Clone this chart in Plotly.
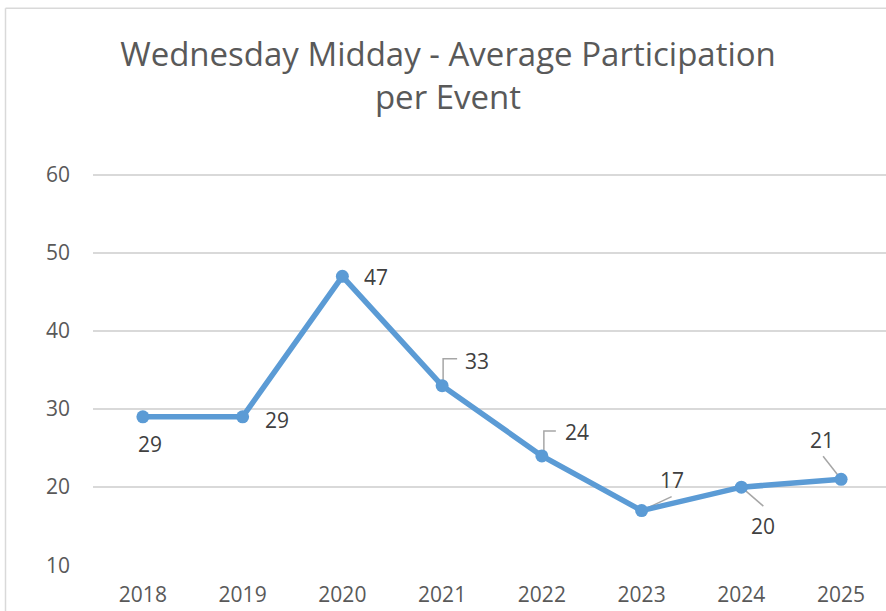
import plotly.graph_objects as go

years = [2018, 2019, 2020, 2021, 2022, 2023, 2024, 2025]
participation = [29, 29, 47, 33, 24, 17, 20, 21]
y_ticks = [10, 20, 30, 40, 50, 60]
title_text = "Wednesday Midday - Average Participation<br>per Event"

# label offsets (pixels, style only)
label_dx = [7, 34, 34, 35, 35, 30, 22, -19]
label_dy = [-27, -3, -1, 25, 24, 31, -39, 39]  # positive = up

# leader-line paths relative to points (pixels, y up), None = no leader
leaders = [None, None, None,
           "M 1,3 L 1,27 L 15,27",
           "M 2,3 L 2,25 L 14,25",
           "M 0,0 L 30,14",
           "M 0,0 L 22,-19",
           "M 0,0 L -18,23"]

LINE_COLOR = "#5B9BD5"
TEXT_COLOR = "#595959"
LABEL_COLOR = "#404040"
GRID = "#d9d9d9"
FONT = "Open Sans"

fig = go.Figure()
fig.add_trace(go.Scatter(
    x=years, y=participation, mode="lines+markers",
    line=dict(color=LINE_COLOR, width=5.5),
    marker=dict(color=LINE_COLOR, size=13),
    hoverinfo="skip", showlegend=False,
))

shapes = []
for x, y, p in zip(years, participation, leaders):
    if p:
        shapes.append(dict(type="path", xref="x", yref="y",
                           xsizemode="pixel", ysizemode="pixel",
                           xanchor=x, yanchor=y, path=p,
                           line=dict(color="#a6a6a6", width=1.5), layer="below"))

annotations = []
for x, y, dx, dy in zip(years, participation, label_dx, label_dy):
    annotations.append(dict(x=x, y=y, text=str(y), showarrow=False,
                            xshift=dx, yshift=dy,
                            font=dict(family=FONT, size=21, color=LABEL_COLOR)))

W, H = 886, 611
Y0, Y1 = 9.9, 61.0
PPU = 7.8  # px per y unit
ML = 93
MT = 175 - (Y1 - 60) * PPU
plot_bottom = 565 + (10 - Y0) * PPU
MB = H - plot_bottom
pw = W - ML
ph = plot_bottom - MT
bx = (5.5 - ML) / pw
by = (plot_bottom - 8.5) / ph
shapes.append(dict(type="line", xref="paper", yref="paper", x0=bx, x1=bx, y0=by, y1=-0.3,
                   line=dict(color=GRID, width=1.5)))
shapes.append(dict(type="line", xref="paper", yref="paper", x0=bx, x1=1.2, y0=by, y1=by,
                   line=dict(color=GRID, width=1.5)))

fig.update_layout(
    width=W, height=H,
    margin=dict(l=ML, r=0, t=MT, b=MB, pad=0),
    paper_bgcolor="white", plot_bgcolor="white",
    title=dict(text=title_text, x=448 / W, xref="container", xanchor="center",
               y=1 - 66 / H, yanchor="top",
               font=dict(family=FONT, size=33, color=TEXT_COLOR)),
    xaxis=dict(range=[2017.5, 2025.45], tickmode="array", tickvals=years,
               ticktext=[str(v) for v in years], showgrid=False, zeroline=False,
               showline=False, ticks="", ticklabelstandoff=14,
               tickfont=dict(family=FONT, size=21, color=TEXT_COLOR)),
    yaxis=dict(range=[Y0, Y1], tickmode="array", tickvals=y_ticks,
               showgrid=True, gridcolor=GRID, gridwidth=1.5, zeroline=False,
               showline=False, ticks="", ticklabelstandoff=22,
               tickfont=dict(family=FONT, size=21, color=TEXT_COLOR)),
    shapes=shapes, annotations=annotations,
)

fig.write_html("out.html", config={"displayModeBar": False},
               post_script="document.body.style.margin='0';document.body.style.overflow='hidden';")
